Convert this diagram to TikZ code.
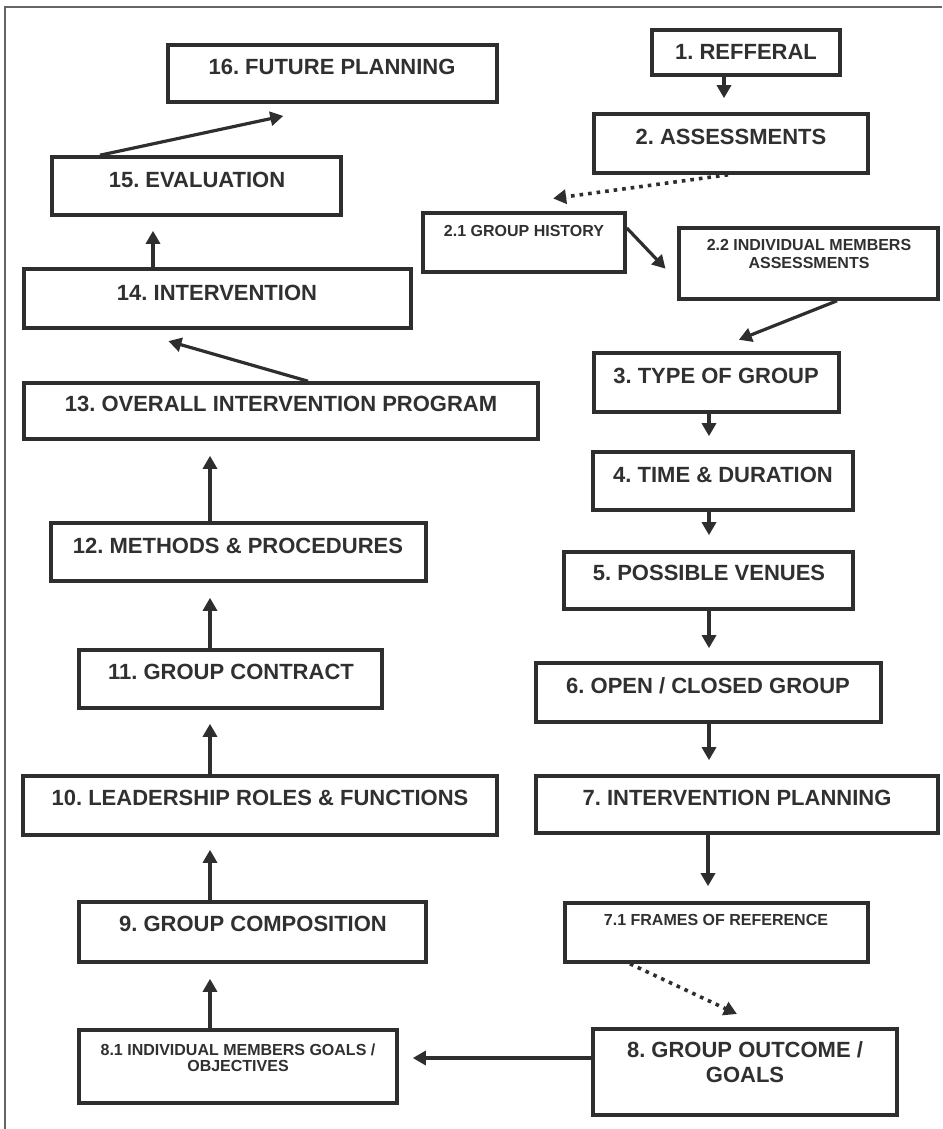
\documentclass[tikz,border=0pt]{standalone}
\usepackage{fontspec}
\setmainfont{Liberation Sans}
\frenchspacing
\usetikzlibrary{arrows.meta,fit}
\definecolor{ink}{HTML}{2E2E2E}
\definecolor{inktext}{HTML}{303030}
\definecolor{frame}{HTML}{666666}
\tikzset{
  box/.style={draw=ink, line width=3.6pt, inner sep=0pt, rectangle},
  big/.style={font=\bfseries\fontsize{22}{25}\selectfont, text=inktext, inner sep=0pt, align=center},
  small/.style={font=\bfseries\fontsize{16}{17}\selectfont, text=inktext, inner sep=0pt, align=center},
  arr/.style={draw=ink, line width=3.2pt, -{Triangle[length=13pt,width=14pt]}},
  dotarr/.style={arr, line width=3.6pt, dash pattern=on 3.6pt off 5pt},
}
\begin{document}
\begin{tikzpicture}[x=1pt, y=-1pt]
\useasboundingbox (0,0) rectangle (942,1129);
\fill[white] (0,0) rectangle (942,1129);
% page frame (top and left edges)
\draw[frame, line width=1.6pt] (942,7) -- (5,7) -- (5,1129);

% left column
\node[box, fit={(168,45) (497,102)}] (b16) {};
\node[big] (t16) at (332,67) {16. FUTURE PLANNING};
\node[box, fit={(52,157) (341,215)}] (b15) {};
\node[big] (t15) at (197,180) {15. EVALUATION};
\node[box, fit={(24,269) (411,328)}] (b14) {};
\node[big] (t14) at (217,293) {14. INTERVENTION};
\node[box, fit={(24,383) (538,439)}] (b13) {};
\node[big] (t13) at (281,404) {13. OVERALL INTERVENTION PROGRAM};
\node[box, fit={(51,523) (426,581)}] (b12) {};
\node[big] (t12) at (238,546) {12. METHODS \& PROCEDURES};
\node[box, fit={(79,650) (382,708)}] (b11) {};
\node[big] (t11) at (231,672) {11. GROUP CONTRACT};
\node[box, fit={(23,776) (497,835)}] (b10) {};
\node[big] (t10) at (260,798) {10. LEADERSHIP ROLES \& FUNCTIONS};
\node[box, fit={(79,902) (426,962)}] (b9) {};
\node[big] (t9) at (253,924) {9. GROUP COMPOSITION};
\node[box, fit={(79,1030) (397,1103)}] (b81) {};
\node[small, font=\bfseries\fontsize{16}{16}\selectfont] (t81) at (238,1058) {8.1 INDIVIDUAL MEMBERS GOALS /\\OBJECTIVES};

% right column
\node[box, fit={(652,30) (840,75)}] (b1) {};
\node[big] (t1) at (746,52) {1. REFFERAL};
\node[box, fit={(594,114) (868,173)}] (b2) {};
\node[big] (t2) at (731,137) {2. ASSESSMENTS};
\node[box, fit={(423,213) (625,272)}] (b21) {};
\node[small] (t21) at (524,231) {2.1 GROUP HISTORY};
\node[box, fit={(679,228) (938,299)}] (b22) {};
\node[small, font=\bfseries\fontsize{16}{18}\selectfont] (t22) at (809,254) {2.2 INDIVIDUAL MEMBERS\\ASSESSMENTS};
\node[box, fit={(594,353) (839,412)}] (b3) {};
\node[big] (t3) at (716,376) {3. TYPE OF GROUP};
\node[box, fit={(593,452) (853,510)}] (b4) {};
\node[big] (t4) at (723,475) {4. TIME \& DURATION};
\node[box, fit={(564,552) (853,609)}] (b5) {};
\node[big] (t5) at (709,573) {5. POSSIBLE VENUES};
\node[box, fit={(536,663) (881,722)}] (b6) {};
\node[big] (t6) at (708,686) {6. OPEN / CLOSED GROUP};
\node[box, fit={(536,776) (938,833)}] (b7) {};
\node[big] (t7) at (737,798) {7. INTERVENTION PLANNING};
\node[box, fit={(565,903) (868,962)}] (b71) {};
\node[small] (t71) at (716,920) {7.1 FRAMES OF REFERENCE};
\node[box, fit={(593,1029) (897,1115)}] (b8) {};
\node[big] (t8) at (745,1062) {8. GROUP OUTCOME /\\GOALS};

% connectors, right column (downwards)
\draw[arr, shorten >=14pt] (b1.south -| 724,0) -- (b2.north -| 724,0);
\draw[dotarr, shorten >=95pt] (b2.south -| 728,0) -- (b21.north -| 459,0);
\draw[arr, shorten >=17pt] (b21.east |- 0,228) -- (b22.west |- 0,281);
\draw[arr, shorten >=31pt] (b22.south -| 837,0) -- (b3.north -| 710,0);
\draw[arr, shorten >=14pt] (b3.south -| 709,0) -- (b4.north -| 709,0);
\draw[arr, shorten >=15pt] (b4.south -| 709,0) -- (b5.north -| 709,0);
\draw[arr, shorten >=13pt] (b5.south -| 709,0) -- (b6.north -| 709,0);
\draw[arr, shorten >=14pt] (b6.south -| 709,0) -- (b7.north -| 709,0);
\draw[arr, shorten >=15pt] (b7.south -| 708,0) -- (b71.north -| 708,0);
\draw[dotarr, shorten >=31pt] (b71.south -| 630,0) -- (b8.north -| 765,0);
\draw[arr, shorten >=14pt] (b8.west |- 0,1058) -- (b81.east |- 0,1058);

% connectors, left column (upwards)
\draw[arr, shorten >=15pt] (b81.north -| 210,0) -- (b9.south -| 210,0);
\draw[arr, shorten >=13pt] (b9.north -| 210,0) -- (b10.south -| 210,0);
\draw[arr, shorten >=14pt] (b10.north -| 210,0) -- (b11.south -| 210,0);
\draw[arr, shorten >=15pt] (b11.north -| 210,0) -- (b12.south -| 210,0);
\draw[arr, shorten >=15pt] (b12.north -| 210,0) -- (b13.south -| 210,0);
\draw[arr, shorten >=41pt] (b13.north -| 308,0) -- (b14.south -| 129,0);
\draw[arr, shorten >=14pt] (b14.north -| 153,0) -- (b15.south -| 153,0);
\draw[arr, shorten >=58pt] (b15.north -| 100,0) -- (b16.south -| 340,0);
\end{tikzpicture}
\end{document}
